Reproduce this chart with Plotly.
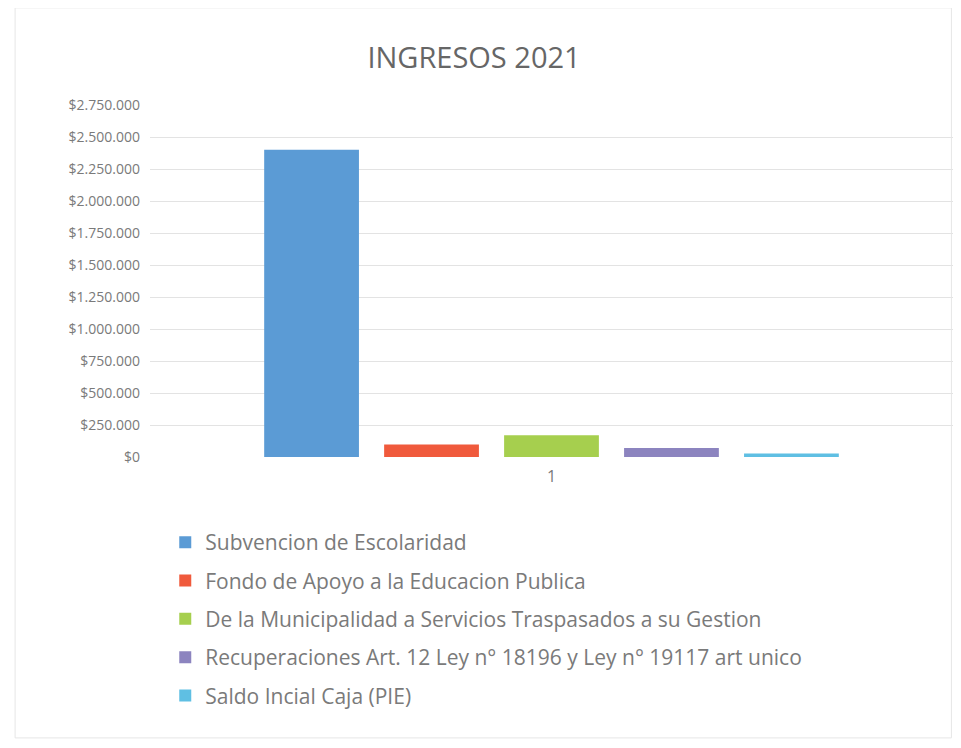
import plotly.graph_objects as go

# data
categoria = ["1"]
series = [
    "Subvencion de Escolaridad",
    "Fondo de Apoyo a la Educacion Publica",
    "De la Municipalidad a Servicios Traspasados a su Gestion",
    "Recuperaciones Art. 12 Ley n° 18196 y Ley n° 19117 art unico",
    "Saldo Incial Caja (PIE)",
]
valores = [2400000, 97000, 170000, 70000, 27000]
colores = ["#5b9bd5", "#f05a3c", "#a6cf4e", "#8c84bf", "#5fbfe3"]
y_ticks = list(range(0, 2750001, 250000))
y_labels = ["$" + f"{v:,}".replace(",", ".") for v in y_ticks]

fig = go.Figure()
for i, (nombre, v) in enumerate(zip(series, valores)):
    fig.add_trace(go.Bar(
        x=categoria, y=[v], name=nombre,
        marker=dict(color=colores[i], line=dict(width=0)),
        legendgroup=f"g{i}",
    ))

gris = "#7a7a7a"
fig.update_layout(
    width=953, height=740,
    paper_bgcolor="white", plot_bgcolor="white",
    font=dict(family="Open Sans, Liberation Sans, sans-serif", color=gris, size=14),
    title=dict(text="INGRESOS 2021", x=0.489, xanchor="center", y=0.932, yanchor="middle",
               font=dict(size=29, color="#666666")),
    barmode="group", bargap=0.253, bargroupgap=0.21,
    margin=dict(l=142, r=8, t=97, b=291),
    xaxis=dict(showgrid=False, showline=False, ticks="", ticklabelstandoff=8,
               tickfont=dict(size=16, color=gris)),
    yaxis=dict(range=[0, 2750000], tickvals=y_ticks, ticktext=y_labels,
               showgrid=True, gridcolor="#e3e3e3", gridwidth=1, zeroline=False,
               showline=False, ticks="", ticklabelstandoff=9,
               tickfont=dict(size=14, color=gris)),
    showlegend=True,
    legend=dict(orientation="v", x=0.019, xanchor="left", y=-0.185, yanchor="top",
                tracegroupgap=8, font=dict(size=21, color=gris),
                itemwidth=30, bgcolor="rgba(0,0,0,0)"),
    shapes=[dict(type="rect", xref="paper", yref="paper",
                 x0=-0.168, x1=0.998, y0=-0.798, y1=1.276,
                 line=dict(color="#e6e6e6", width=1))],
)

fig.write_html("out.html")
